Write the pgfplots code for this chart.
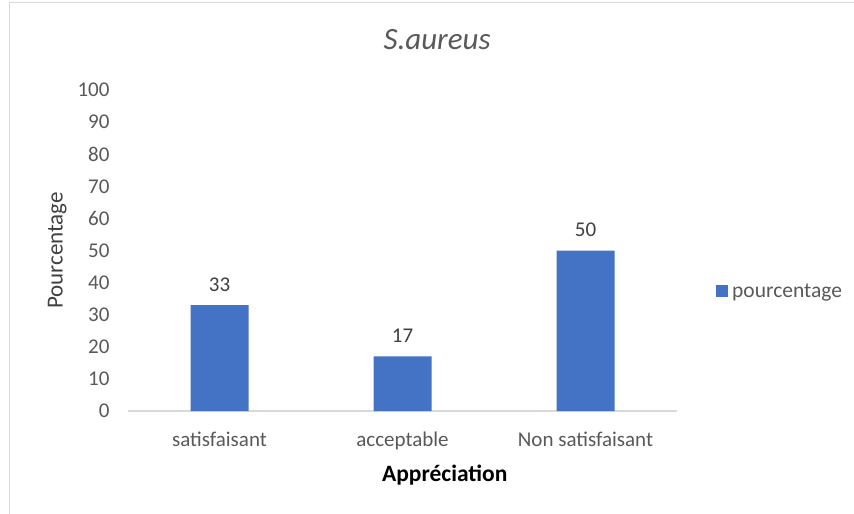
\documentclass[border=0pt]{standalone}
\usepackage{pgfplots}
\pgfplotsset{compat=1.18}
\usepackage{fontspec}
\setmainfont{Carlito}
\definecolor{barblue}{HTML}{4472C4}
\definecolor{tickgray}{HTML}{595959}
\definecolor{labgray}{HTML}{404040}
\definecolor{framegray}{HTML}{D9D9D9}
\begin{document}
\begin{tikzpicture}
\useasboundingbox (0,0) rectangle (854bp,-514bp);
\fill[white] (0,0) rectangle (854bp,-514bp);
\draw[framegray, line width=1.5bp] (9.5bp,-514bp) -- (9.5bp,-2.5bp) -- (854bp,-2.5bp);
\begin{axis}[
  at={(128bp,-411bp)}, anchor=south west,
  scale only axis, width=549bp, height=321bp,
  ymin=0, ymax=100, xmin=-0.5, xmax=2.5,
  ytick={0,10,...,100},
  xtick=data,
  xticklabels={satisfaisant,acceptable,Non satisfaisant},
  axis x line*=bottom, axis y line*=left,
  x axis line style={draw=framegray, line width=1.2bp},
  y axis line style={draw=none},
  major tick style={draw=none},
  /pgf/number format/assume math mode=true,
  ticklabel style={font=\fontsize{21bp}{25bp}\selectfont, text=tickgray},
  yticklabel style={xshift=-15bp},
  xticklabel style={yshift=-17bp},
  title={\textit{S.aureus}},
  title style={at={(axis description cs:0.563,1.138)}, anchor=center, font=\fontsize{31bp}{36bp}\selectfont, text=tickgray},
  xlabel={\textbf{Appréciation}},
  xlabel style={at={(axis description cs:0.577,-0.199)}, anchor=center, font=\fontsize{23.5bp}{28bp}\selectfont, text=black},
  ylabel={Pourcentage},
  ylabel style={at={(axis description cs:-0.129,0.5)}, anchor=center, rotate=0, font=\fontsize{23bp}{27bp}\selectfont, text=labgray},
  legend style={draw=none, fill=none, at={(axis description cs:1.071,0.374)}, anchor=west, font=\fontsize{21.5bp}{25bp}\selectfont, text=tickgray, inner sep=0pt, nodes={inner xsep=4bp}},
  legend image code/.code={\fill[barblue] (0bp,-6bp) rectangle (12bp,6bp);},
  nodes near coords,
  nodes near coords style={font=\fontsize{21bp}{25bp}\selectfont, text=labgray, yshift=10bp},
]
\addplot[ybar, bar width=58bp, fill=barblue, draw=none] coordinates {(0,33) (1,17) (2,50)};
\addlegendentry{pourcentage}
\end{axis}
\end{tikzpicture}
\end{document}
